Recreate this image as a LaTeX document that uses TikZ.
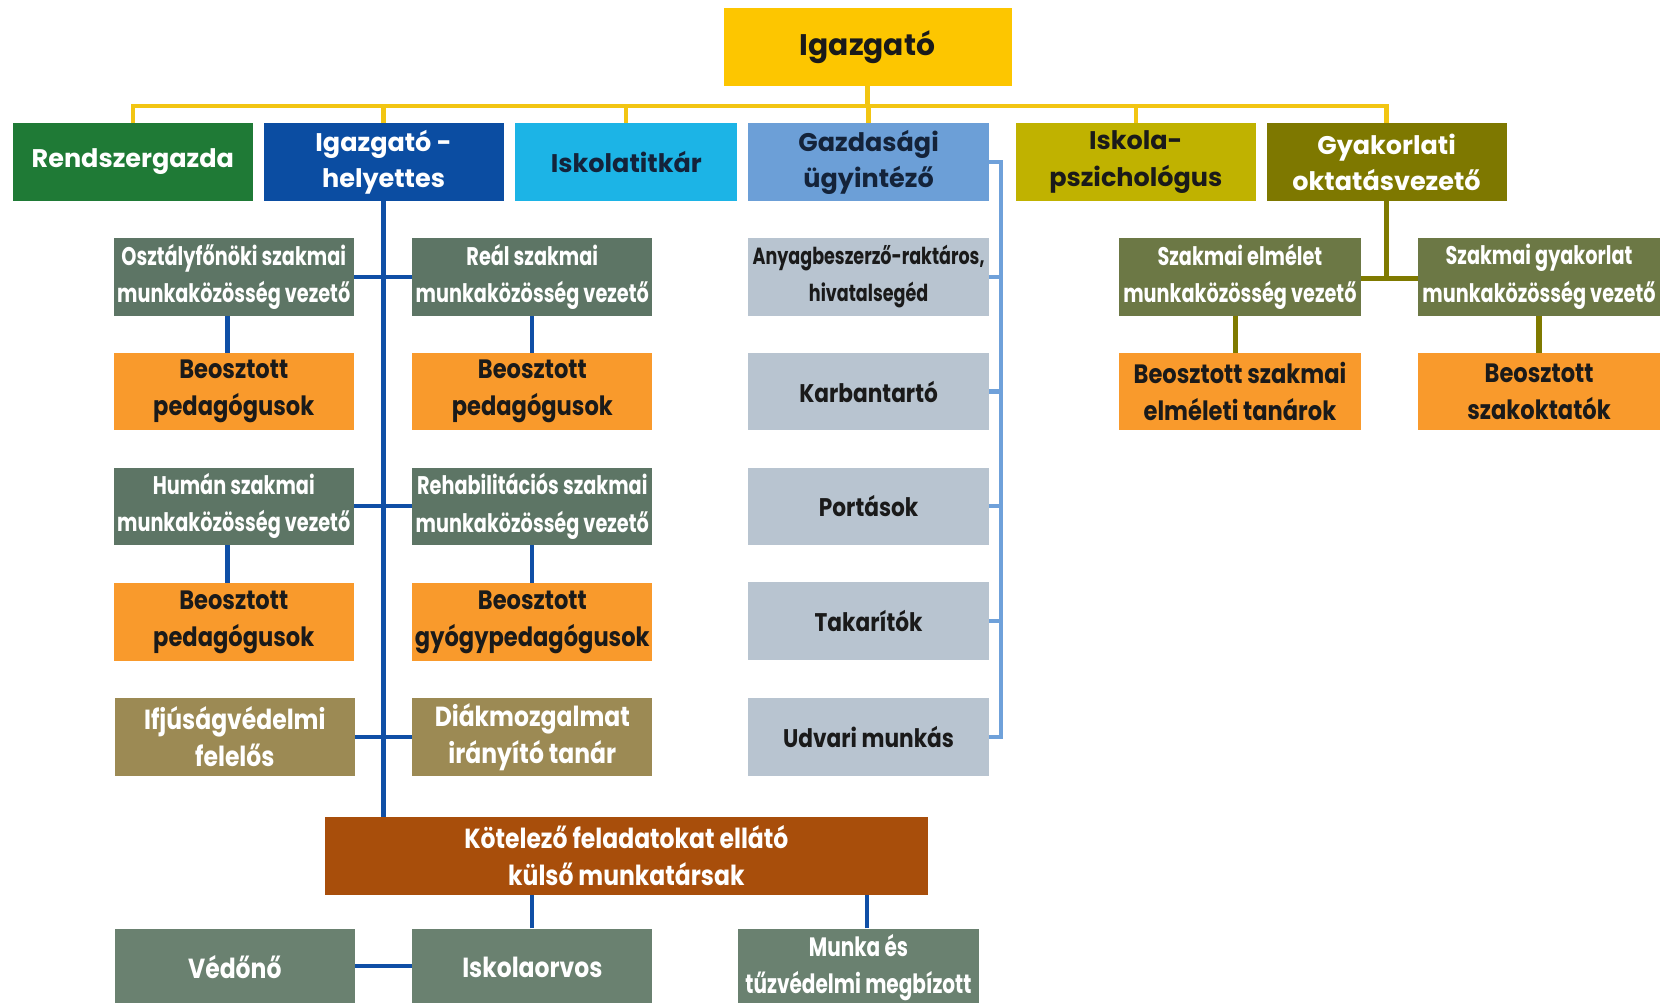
\documentclass[tikz,border=0pt]{standalone}
\usepackage{fontspec}
\setmainfont{Poppins}
\newfontfamily\ftop{Poppins}
\newfontfamily\fsub[FakeStretch=0.755]{Poppins}
\newfontfamily\forg[FakeStretch=0.85]{Poppins}
\newfontfamily\fany[FakeStretch=0.75]{Poppins}
\definecolor{cgold}{HTML}{FDC600}
\definecolor{cyline}{HTML}{F2C512}
\definecolor{cgreen}{HTML}{1F7A36}
\definecolor{cblue}{HTML}{0B4DA2}
\definecolor{ccyan}{HTML}{1CB4E6}
\definecolor{csteel}{HTML}{6C9FD7}
\definecolor{colive}{HTML}{C0B200}
\definecolor{cdolive}{HTML}{7E7800}
\definecolor{csub}{HTML}{5D7565}
\definecolor{corange}{HTML}{F99A2C}
\definecolor{ctan}{HTML}{9C8A54}
\definecolor{cbrown}{HTML}{A84E0B}
\definecolor{cbot}{HTML}{6A8170}
\definecolor{cgray}{HTML}{B8C4D0}
\definecolor{cszak}{HTML}{6C7845}
\definecolor{cbline}{HTML}{0F4FA6}
\definecolor{clbline}{HTML}{6FA1DA}
\definecolor{colline}{HTML}{7F7A00}
\definecolor{cdark}{HTML}{1A1A1A}
\definecolor{cnavy}{HTML}{14233A}
\begin{document}
\begin{tikzpicture}[x=1pt,y=-1pt,
  box/.style={rectangle, inner sep=0pt, minimum width=226, minimum height=73, align=center},
  topbox/.style={box, font=\ftop\bfseries\fontsize{24}{34}\selectfont},
  subbox/.style={box, fill=csub, text=white, font=\fsub\bfseries\fontsize{24}{35}\selectfont},
  orgbox/.style={box, fill=corange, text=cdark, font=\forg\bfseries\fontsize{25}{35}\selectfont},
  graybox/.style={box, minimum width=227, fill=cgray, text=cdark, font=\forg\bfseries\fontsize{24}{35}\selectfont},
  tanbox/.style={box, fill=ctan, text=white, font=\forg\bfseries\fontsize{26}{35}\selectfont},
  botbox/.style={box, fill=cbot, text=white, font=\forg\bfseries\fontsize{26}{35}\selectfont},
  szbox/.style={box, fill=cszak, text=white, font=\fsub\bfseries\fontsize{24}{35}\selectfont},
  yline/.style={draw=cyline, line width=4pt},
  bline/.style={draw=cbline, line width=4pt},
  lbline/.style={draw=clbline, line width=4pt},
  oline/.style={draw=colline, line width=5pt}
]
\clip (0,0) rectangle (1568,944);
\fill[white] (0,0) rectangle (1568,944);

% top
\node[box, minimum width=271, fill=cgold, text=cdark, font=\ftop\bfseries\fontsize{28}{34}\selectfont] (igaz) at (816.5,44.5) {Igazgató};

% row 1
\node[topbox, fill=cgreen, text=white] (rend) at (125,152.5) {Rendszergazda};
\node[topbox, fill=cblue, text=white] (ih) at (361,152.5) {Igazgató -\\helyettes};
\node[topbox, minimum width=209, fill=ccyan, text=cnavy] (isk) at (589.5,152.5) {Iskolatitkár};
\node[topbox, minimum width=227, fill=csteel, text=cnavy] (gaz) at (817.5,152.5) {Gazdasági\\ügyintéző};
\node[topbox, fill=colive, text=cdark] (psz) at (1069,152.5) {Iskola-\\pszichológus};
\node[topbox, fill=cdolive, text=white] (gyak) at (1305,152.5) {Gyakorlati\\oktatásvezető};

% yellow bus
\coordinate (bus) at (0,100);
\draw[yline] (rend.north) -- (rend.north |- bus) -- (gyak.north |- bus) -- (gyak.north);
\draw[yline] (igaz.south) -- (igaz.south |- bus);
\draw[yline] (ih.north) -- (ih.north |- bus);
\draw[yline] (isk.north) -- (isk.north |- bus);
\draw[yline] (gaz.north) -- (gaz.north |- bus);
\draw[yline] (psz.north) -- (psz.north |- bus);

% left tree
\node[subbox] (osz) at (220,260.5) {Osztályfőnöki szakmai\\munkaközösség vezető};
\node[subbox] (real) at (501,260.5) {Reál szakmai\\munkaközösség vezető};
\node[orgbox] (beo1) at (220,368.5) {Beosztott\\pedagógusok};
\node[orgbox] (beo2) at (501,368.5) {Beosztott\\pedagógusok};
\node[subbox] (hum) at (220,476.5) {Humán szakmai\\munkaközösség vezető};
\node[subbox] (reh) at (501,476.5) {Rehabilitációs szakmai\\munkaközösség vezető};
\node[orgbox] (beo3) at (220,585.5) {Beosztott\\pedagógusok};
\node[orgbox] (beo4) at (501,585.5) {Beosztott\\gyógypedagógusok};
\node[tanbox] (ifj) at (221,693.5) {Ifjúságvédelmi\\felelős};
\node[tanbox] (diak) at (501,693.5) {Diákmozgalmat\\irányító tanár};
\node[box, minimum width=567, fill=cbrown, text=white, font=\forg\bfseries\fontsize{26}{35}\selectfont] (kot) at (589.5,805.5) {Kötelező feladatokat ellátó\\külső munkatársak};
\node[botbox] (ved) at (221,910.5) {Védőnő};
\node[botbox] (orv) at (501,910.5) {Iskolaorvos};
\node[botbox, font=\fsub\bfseries\fontsize{25}{35}\selectfont] (munka) at (808,910.5) {Munka és\\tűzvédelmi megbízott};

\draw[bline] (ih.south) -- (ih.south |- kot.north);
\draw[bline] (osz.east) -- (real.west);
\draw[bline] (hum.east) -- (reh.west);
\draw[bline] (ifj.east) -- (diak.west);
\draw[bline] ([xshift=-6]osz.south) -- ([xshift=-6]beo1.north);
\draw[bline] (real.south) -- (beo2.north);
\draw[bline] ([xshift=-6]hum.south) -- ([xshift=-6]beo3.north);
\draw[bline] (reh.south) -- (beo4.north);
\draw[bline] (orv.north) -- (orv.north |- kot.south);
\draw[bline] ([xshift=8]munka.north) -- ([xshift=8]munka.north |- kot.south);
\draw[bline] ([yshift=1.5]ved.east) -- ([yshift=1.5]orv.west);

% Gazdasági column
\node[graybox, font=\fany\bfseries\fontsize{22}{35}\selectfont] (any) at (817.5,260.5) {Anyagbeszerző-raktáros,\\hivatalsegéd};
\node[graybox] (karb) at (817.5,368.5) {Karbantartó};
\node[graybox] (port) at (817.5,476.5) {Portások};
\node[graybox] (tak) at (817.5,584.5) {Takarítók};
\node[graybox] (udv) at (817.5,693.5) {Udvari munkás};
\coordinate (rail) at (942,0);
\draw[lbline] (gaz.east) -- (gaz.east -| rail) -- (udv.east -| rail) -- (udv.east);
\foreach \n in {any,karb,port,tak} \draw[lbline] (\n.east) -- (\n.east -| rail);

% right tree
\node[szbox, minimum width=228] (elm) at (1167,260.5) {Szakmai elmélet\\munkaközösség vezető};
\node[szbox, minimum width=227] (gyk) at (1448.5,260.5) {Szakmai gyakorlat\\munkaközösség vezető};
\node[orgbox, minimum width=228] (beo5) at (1167,368.5) {Beosztott szakmai\\elméleti tanárok};
\node[orgbox, minimum width=227] (beo6) at (1448.5,368.5) {Beosztott\\szakoktatók};
\draw[oline] ([yshift=-1.5]elm.east) -- ([yshift=-1.5]gyk.west);
\draw[oline] (gyak.south) -- ([yshift=-1.5]gyak.south |- elm.east);
\draw[oline] ([xshift=-4]elm.south) -- ([xshift=-4]beo5.north);
\draw[oline] (gyk.south) -- (beo6.north);
\end{tikzpicture}
\end{document}
